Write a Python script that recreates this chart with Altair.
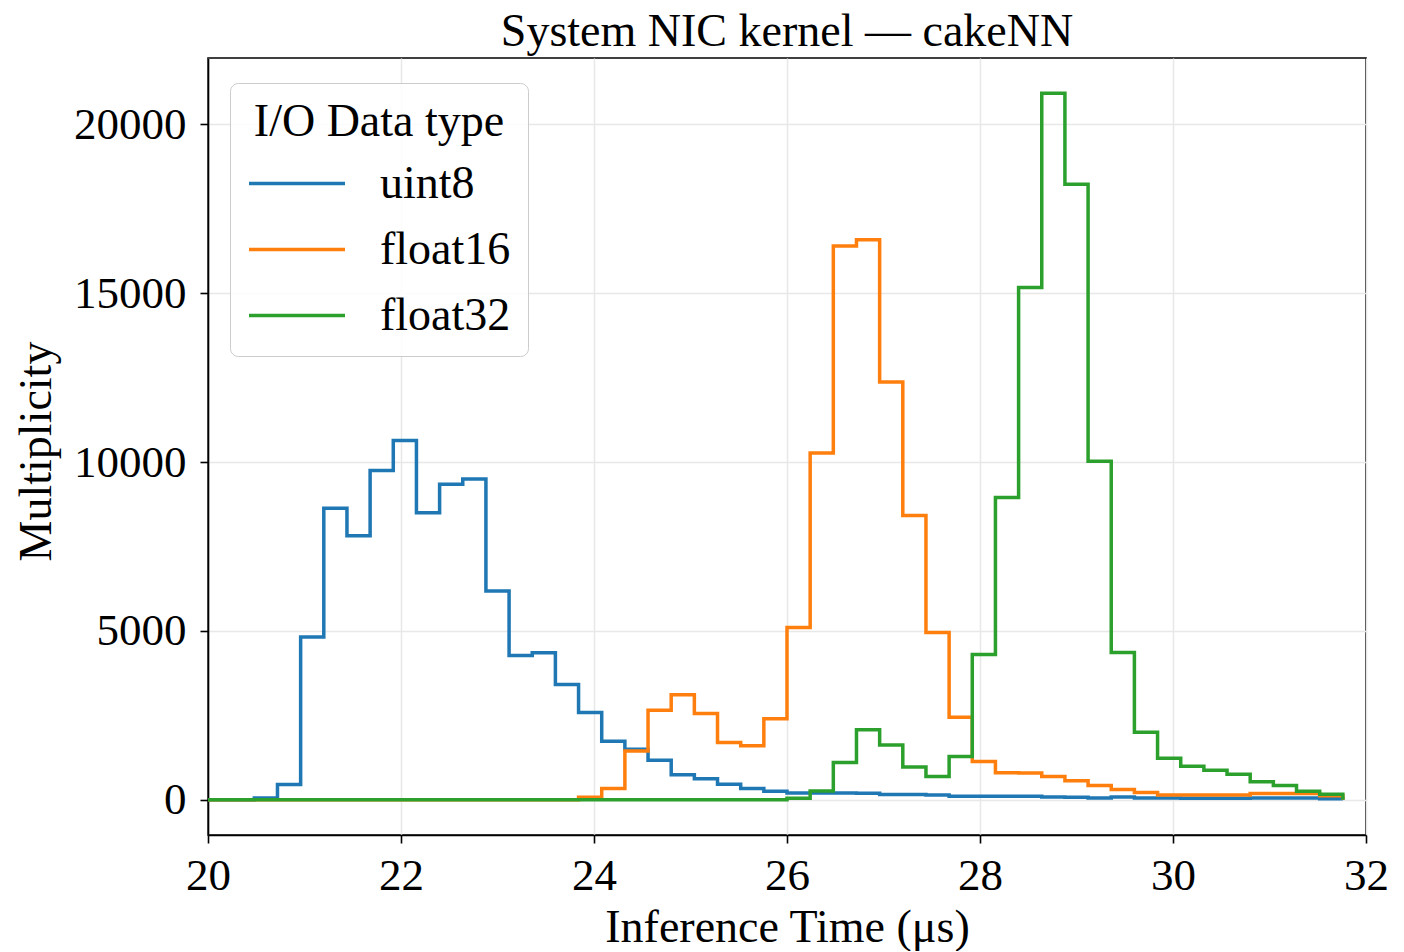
import altair as alt
import pandas as pd

# ---- data ----
bin_start = 20.0
bin_width = 0.24
n_bins = 49

series_names = ["uint8", "float16", "float32"]
series_colors = ["#1f77b4", "#ff7f0e", "#2ca02c"]

uint8 = [0, 0, 50, 450, 4820, 8630, 7820, 9750, 10640, 8500,
         9340, 9500, 6180, 4270, 4350, 3410, 2580, 1730, 1490, 1170,
         740, 620, 455, 330, 250, 200, 200, 200, 190, 150,
         150, 140, 100, 100, 100, 100, 80, 70, 50, 80,
         50, 50, 45, 45, 45, 50, 50, 50, 30]

float16 = [0, 0, 0, 0, 0, 0, 0, 0, 0, 0,
           0, 0, 0, 0, 0, 0, 70, 330, 1440, 2650,
           3110, 2550, 1690, 1600, 2400, 5100, 10270, 16400, 16580, 12370,
           8420, 4950, 2440, 1130, 800, 790, 690, 560, 420, 300,
           210, 140, 140, 140, 140, 180, 180, 180, 120]

float32 = [0, 0, 0, 0, 0, 0, 0, 0, 0, 0,
           0, 0, 0, 0, 0, 0, 0, 0, 0, 0,
           0, 0, 0, 0, 0, 40, 260, 1100, 2070, 1620,
           965, 690, 1280, 4300, 8950, 15170, 20920, 18230, 10020, 4360,
           2000, 1230, 990, 870, 750, 530, 420, 250, 160]

x_ticks = [20, 22, 24, 26, 28, 30, 32]
y_ticks = [0, 5000, 10000, 15000, 20000]

# ---- build the step table ----
edges = [round(bin_start + bin_width * i, 2) for i in range(n_bins + 1)]
rows = []
for name, counts in zip(series_names, [uint8, float16, float32]):
    for i, c in enumerate(counts):
        rows.append({"t": edges[i], "count": c, "dtype": name, "k": i})
    rows.append({"t": edges[-1], "count": counts[-1], "dtype": name, "k": n_bins})
    rows.append({"t": edges[-1], "count": 0, "dtype": name, "k": n_bins + 1})
df = pd.DataFrame(rows)

FONT = "Liberation Serif"
W, H = 1158, 777

x_enc = alt.X(
    "t:Q",
    scale=alt.Scale(domain=[20, 32], nice=False, zero=False),
    axis=alt.Axis(
        values=x_ticks, title="Inference Time (μs)", format="d",
        labelFlush=False, labelOverlap=False,
        labelBaseline="alphabetic", labelPadding=46,
        titleX=W / 2, titleY=106, titleAlign="center", titleBaseline="alphabetic",
    ),
)
y_enc = alt.Y(
    "count:Q",
    scale=alt.Scale(domain=[-1046, 21966], nice=False, zero=False),
    axis=alt.Axis(
        values=y_ticks, title="Multiplicity", format="d",
        labelFlush=False, labelOverlap=False,
        labelAlign="right", labelBaseline="middle", labelPadding=14,
        titleX=-158, titleY=393, titleAngle=-90, titleAlign="center",
        titleBaseline="alphabetic",
    ),
)
color_enc = alt.Color(
    "dtype:N",
    scale=alt.Scale(domain=series_names, range=series_colors),
    legend=alt.Legend(
        title="I/O Data type", orient="none", legendX=22, legendY=25,
        titleFont=FONT, titleFontSize=46, titleFontWeight="normal",
        titleColor="black", titleAnchor="middle", titlePadding=15, titleLimit=600,
        labelFont=FONT, labelFontSize=46, labelColor="black", labelOffset=33,
        labelLimit=600,
        symbolType="stroke", symbolSize=9216, symbolStrokeWidth=3.5,
        clipHeight=45, rowPadding=19, padding=17,
        fillColor="rgba(255,255,255,0.85)", strokeColor="#cccccc", cornerRadius=8,
    ),
)

layers = []
for name in series_names:
    layers.append(
        alt.Chart(df)
        .transform_filter(alt.datum.dtype == name)
        .mark_line(interpolate="step-after", strokeWidth=3.5, clip=True)
        .encode(x=x_enc, y=y_enc, color=color_enc, order=alt.Order("k:Q"))
    )

chart = (
    alt.layer(*layers)
    .properties(
        width=W, height=H,
        title=alt.Title(
            "System NIC kernel — cakeNN", font=FONT, fontSize=46,
            fontWeight="normal", color="black", anchor="middle",
            offset=2, frame="group",
        ),
        autosize=alt.AutoSizeParams(type="none"),
        padding={"left": 200, "top": 50, "right": 30, "bottom": 116},
        background="white",
    )
    .configure_view(stroke="black", strokeWidth=1.6)
    .configure_axis(
        grid=True, gridColor="#e8e8e8", gridWidth=1.5,
        domainColor="black", domainWidth=1.6,
        tickColor="black", tickWidth=1.6, tickSize=8,
        labelFont=FONT, labelFontSize=45, labelColor="black",
        titleFont=FONT, titleFontSize=46, titleFontWeight="normal", titleColor="black",
    )
)

chart.save("out.html", embed_options={"renderer": "svg", "actions": False})
